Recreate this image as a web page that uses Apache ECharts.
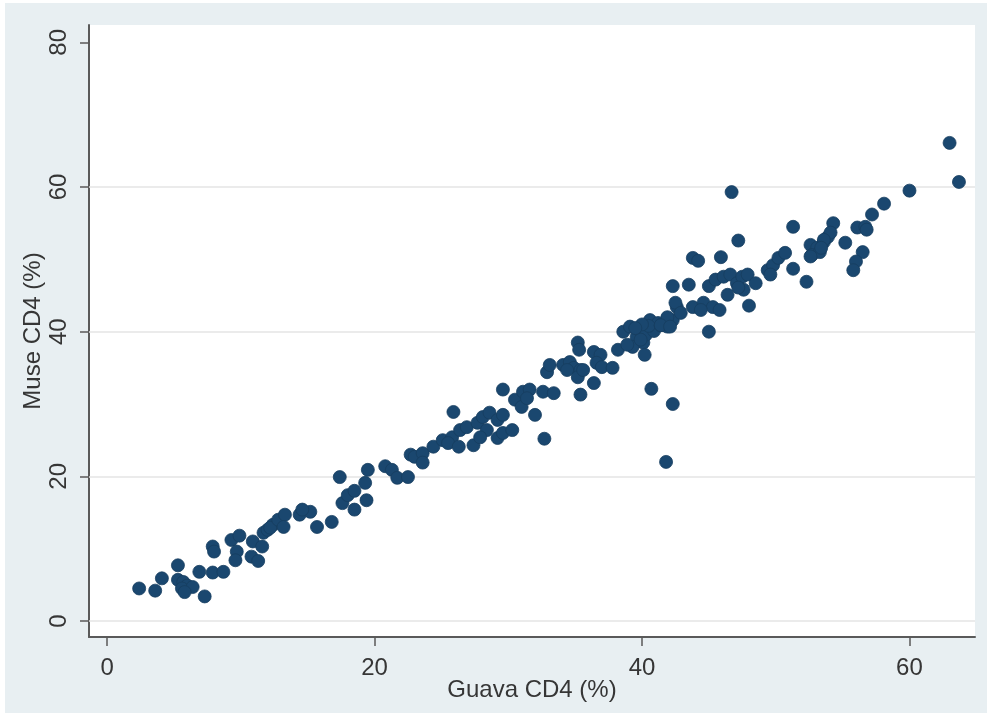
<!DOCTYPE html>
<html>
<head>
<meta charset="utf-8">
<script src="https://cdn.jsdelivr.net/npm/echarts@6/dist/echarts.min.js"></script>
<style>
html,body{margin:0;padding:0;background:#ffffff;}
#chart{position:absolute;left:5px;top:3px;width:982px;height:710px;}
</style>
</head>
<body>
<div id="chart"></div>
<script>
// Guava CD4 (%) vs Muse CD4 (%)
const guava = [
  2.4,3.6,4.1,5.3,5.3,5.7,6.0,5.6,6.4,5.8,7.3,6.9,7.9,8.7,7.9,8.0,9.3,9.9,9.7,9.6,10.8,11.3,10.9,11.6,11.7,12.0,12.4,
  12.2,12.8,13.3,13.2,14.4,15.2,14.6,15.7,16.8,17.4,17.6,18.0,18.5,18.5,19.3,19.5,19.4,20.8,21.3,21.7,22.5,
  22.7,23.0,23.6,23.6,24.4,25.1,25.8,26.4,26.9,25.5,26.3,27.4,25.9,27.7,28.1,28.6,29.2,29.6,28.4,27.9,29.2,29.6,30.3,29.6,30.5,31.0,31.1,31.6,31.4,32.0,
  32.6,33.4,32.7,32.9,33.1,34.1,34.6,34.9,34.4,35.2,35.3,35.4,35.2,35.6,35.4,36.4,36.9,36.6,37.0,36.4,37.8,38.2,38.6,39.1,39.6,40.1,39.3,40.2,40.6,41.2,41.9,42.3,42.6,40.7,42.3,41.8,
  39.8,40.3,40.9,39.9,40.5,38.9,41.4,40.0,39.5,
  46.7,51.3,47.2,43.8,44.2,45.9,42.3,43.5,45.0,45.5,46.1,46.6,47.1,47.5,47.9,48.5,47.6,46.4,47.2,49.4,49.8,50.2,50.7,49.6,51.3,52.3,48.0,45.0,52.6,53.1,53.6,53.9,52.7,53.3,52.6,
  42.5,43.8,44.6,45.3,45.8,44.4,41.9,42.9,41.4,42.1,
  63.0,63.7,60.0,58.1,57.2,56.1,56.7,56.8,55.2,56.5,56.0,55.8,54.3,54.1,53.6,53.4
];
const muse = [
  4.5,4.2,5.9,7.7,5.7,5.4,4.9,4.5,4.7,4.0,3.4,6.8,6.7,6.8,10.3,9.6,11.2,11.8,9.6,8.4,8.9,8.3,11.0,10.3,12.2,12.6,13.3,
  12.9,14.0,14.7,13.0,14.7,15.1,15.4,13.0,13.7,19.9,16.3,17.4,18.0,15.4,19.1,20.9,16.7,21.4,20.9,19.8,19.9,
  23.0,22.7,23.2,21.9,24.1,25.0,25.4,26.4,26.8,24.6,24.1,24.3,28.9,27.4,28.2,28.8,27.8,28.5,26.4,25.4,25.3,26.0,26.4,32.0,30.6,29.6,31.7,32.0,30.8,28.5,
  31.7,31.5,25.2,34.4,35.4,35.4,35.8,35.0,34.7,38.5,37.5,34.7,33.7,34.7,31.3,37.2,36.8,35.7,35.1,32.9,35.0,37.5,40.0,40.7,39.3,38.5,37.9,36.8,41.6,41.2,40.7,41.6,43.4,32.1,30.0,22.0,
  40.2,39.6,40.1,38.9,40.8,38.2,40.9,41.0,40.5,
  59.3,54.5,52.6,50.2,49.8,50.3,46.3,46.5,46.3,47.2,47.6,47.9,46.7,47.6,47.9,46.7,45.8,45.1,46.1,48.5,49.2,50.2,50.9,47.9,48.7,46.9,43.6,40.0,52.0,51.6,52.4,53.1,50.6,51.0,50.4,
  44.0,43.4,44.0,43.4,43.0,43.0,42.0,42.6,40.9,40.7,
  66.1,60.7,59.5,57.7,56.2,54.4,54.5,54.1,52.3,51.0,49.7,48.5,55.0,53.7,52.7,51.6
];
const xTicks = [0, 20, 40, 60];
const yTicks = [0, 20, 40, 60, 80];
const yGrid = [0, 20, 40, 60];

const points = guava.map((g, i) => [g, muse[i]]);

const chart = echarts.init(document.getElementById('chart'));
const axisFont = {fontFamily: 'Liberation Sans, Arial, sans-serif', fontSize: 24, color: '#363636'};
chart.setOption({
  backgroundColor: '#e8eff2',
  animation: false,
  grid: {left: 84, top: 22, right: 12, bottom: 76, show: true, backgroundColor: '#ffffff', borderWidth: 0},
  xAxis: {
    type: 'value', min: -1.35, max: 64.9,
    name: 'Guava CD4 (%)', nameLocation: 'middle', nameGap: 41, nameMoveOverlap: false,
    nameTextStyle: axisFont,
    axisLine: {onZero: false, lineStyle: {color: '#5a5a5a', width: 2}},
    axisTick: {show: true, length: 9, customValues: xTicks, lineStyle: {color: '#5a5a5a', width: 1.5}},
    axisLabel: Object.assign({customValues: xTicks, margin: 19}, axisFont),
    splitLine: {show: false}
  },
  yAxis: {
    type: 'value', min: -2.21, max: 82.4,
    name: 'Muse CD4 (%)', nameLocation: 'middle', nameGap: 44, nameMoveOverlap: false,
    nameTextStyle: axisFont,
    axisLine: {show: true, onZero: false, lineStyle: {color: '#5a5a5a', width: 2}},
    axisTick: {show: true, length: 9, customValues: yTicks, lineStyle: {color: '#5a5a5a', width: 1.5}},
    axisLabel: Object.assign({customValues: yTicks, margin: 18, rotate: 90}, axisFont),
    splitLine: {show: false}
  },
  series: [{
    type: 'scatter',
    data: points,
    symbol: 'circle',
    symbolSize: 13,
    itemStyle: {color: '#1a476f', borderColor: '#163d60', borderWidth: 0.8, opacity: 1},
    markLine: {
      silent: true, symbol: ['none', 'none'], label: {show: false},
      lineStyle: {color: '#e4e4e4', width: 1.5, type: 'solid'},
      z: 1,
      data: yGrid.map(v => ({yAxis: v}))
    }
  }]
});
</script>
</body>
</html>
